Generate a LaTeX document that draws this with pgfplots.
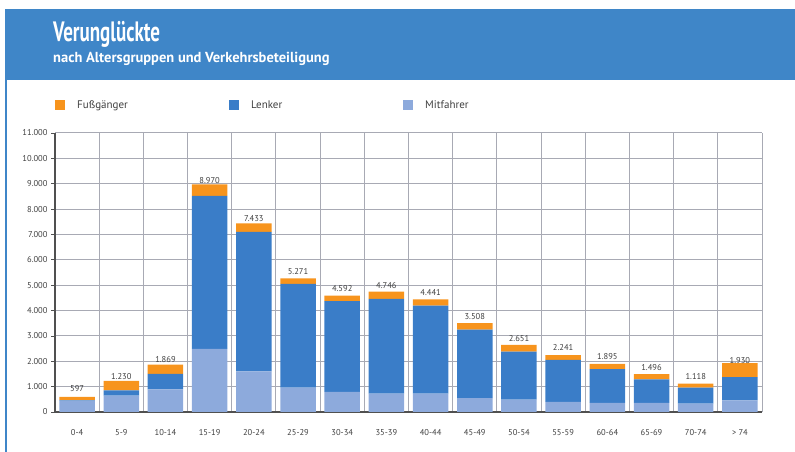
\documentclass[border=0pt]{standalone}
\usepackage{pgfplots}
\pgfplotsset{compat=1.18}
\usepackage{pgfplotstable}
\usepackage{fontspec}
\setmainfont{PT Sans}
\newfontfamily\titlefont[FakeStretch=0.68]{PT Sans}
\definecolor{headblue}{HTML}{3F86C8}
\definecolor{cF}{HTML}{F7941D}
\definecolor{cL}{HTML}{3A7DC8}
\definecolor{cM}{HTML}{8DAADC}
\definecolor{gridc}{HTML}{A8AAB4}
\definecolor{axisc}{HTML}{505050}
\definecolor{txt}{HTML}{404040}

\pgfplotstableread{
x M L F lab
0 450 20 127 597
1 650 200 380 1.230
2 890 610 369 1.869
3 2490 6030 450 8.970
4 1600 5500 333 7.433
5 960 4090 221 5.271
6 790 3580 222 4.592
7 720 3740 286 4.746
8 720 3475 246 4.441
9 550 2700 258 3.508
10 485 1900 266 2.651
11 395 1665 181 2.241
12 355 1335 205 1.895
13 355 930 211 1.496
14 330 630 158 1.118
15 460 915 555 1.930
}\data

\begin{document}
\begin{tikzpicture}
\path[use as bounding box] (0,0) rectangle (795bp,452bp);
\fill[headblue] (5bp,372bp) rectangle (795bp,443bp);
\draw[headblue, line width=1.5bp] (6bp,0) -- (6bp,372bp);
\node[anchor=base west, text=white, inner sep=0] at (53bp,410.5bp) {\titlefont\bfseries\fontsize{28bp}{30bp}\selectfont Verunglückte};
\node[anchor=base west, text=white, inner sep=0] at (53bp,389bp) {\bfseries\fontsize{14.5bp}{16bp}\selectfont nach Altersgruppen und Verkehrsbeteiligung};
\begin{axis}[
  at={(55bp,40bp)}, anchor=south west,
  scale only axis, width=707bp, height=279bp,
  xmin=-0.5, xmax=15.5, ymin=0, ymax=11000,
  scaled y ticks=false,
  ybar stacked, bar width=35.5bp,
  axis lines*=left,
  axis line style={draw=axisc, line width=1.2bp},
  xtick={0,...,15},
  xticklabels={0-4,5-9,10-14,15-19,20-24,25-29,30-34,35-39,40-44,45-49,50-54,55-59,60-64,65-69,70-74,> 74},
  x tick style={draw=none},
  minor xtick={-0.5,0.5,...,15.5},
  minor x tick style={draw=none},
  xminorgrids=true,
  ytick={0,1000,...,11000},
  yticklabels={0,1.000,2.000,3.000,4.000,5.000,6.000,7.000,8.000,9.000,10.000,11.000},
  ymajorgrids=true,
  tick align=outside, major tick length=4bp,
  y tick style={draw=axisc, line width=0.8bp},
  grid style={draw=gridc, line width=1bp},
  minor grid style={draw=gridc, line width=1bp},
  ticklabel style={font=\fontsize{8.5bp}{10bp}\selectfont, text=txt},
  xticklabel style={yshift=-10bp},
  reverse legend,
  legend columns=3,
  legend image code/.code={\fill[#1] (0bp,-5bp) rectangle (10bp,5bp);},
  legend style={draw=none, fill=none, at={(axis description cs:0,1)}, anchor=west, yshift=27.5bp,
    inner sep=0pt, font=\fontsize{11bp}{13bp}\selectfont, text=txt,
    /tikz/every odd column/.append style={column sep=10bp}},
]
\addplot[fill=cM, draw=none] table[x=x, y=M] {\data};
\addlegendentry{\makebox[150bp][l]{Mitfahrer}}
\addplot[fill=cL, draw=none] table[x=x, y=L] {\data};
\addlegendentry{\makebox[150bp][l]{Lenker}}
\addplot[fill=cF, draw=none, point meta=explicit symbolic,
  nodes near coords, nodes near coords style={font=\fontsize{8.5bp}{10bp}\selectfont, text=txt, anchor=south, yshift=3bp}]
  table[x=x, y=F, meta=lab] {\data};
\addlegendentry{\makebox[150bp][l]{Fußgänger}}
\end{axis}
\end{tikzpicture}
\end{document}
